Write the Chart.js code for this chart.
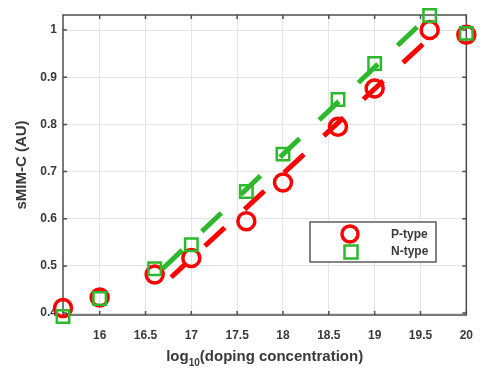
<!DOCTYPE html>
<html>
<head>
<meta charset="utf-8">
<script src="https://cdn.jsdelivr.net/npm/chart.js@4/dist/chart.umd.min.js"></script>
<style>
  html, body { margin: 0; padding: 0; background: #fff; }
  #wrap { width: 486px; height: 371px; }
</style>
</head>
<body>
<div id="wrap"><canvas id="chart" width="486" height="371"></canvas></div>
<script>
// doping levels (log10) and measured sMIM-C values
const dopingLog = [15.6, 16, 16.6, 17, 17.6, 18, 18.6, 19, 19.6, 20];
const pType = [0.411, 0.433, 0.482, 0.517, 0.595, 0.677, 0.795, 0.876, 1.0, 0.99];
const nType = [0.393, 0.431, 0.494, 0.545, 0.658, 0.737, 0.853, 0.929, 1.031, 0.993];

// dashed linear fits (end points)
const pFitX = [16.78, 19.62];
const pFitY = [0.476, 0.987];
const nFitX = [16.6, 19.6];
const nFitY = [0.478, 1.032];

const xTicks = [16, 16.5, 17, 17.5, 18, 18.5, 19, 19.5, 20];
const yTicks = [0.4, 0.5, 0.6, 0.7, 0.8, 0.9, 1];
const seriesNames = ['P-type', 'N-type'];

const RED = '#ff0000';
const GREEN = '#2db82d';
const TEXT = '#3a3a3a';
const FONT = "'Liberation Sans', Arial, sans-serif";

const toPoints = (xs, ys) => xs.map((x, i) => ({ x: x, y: ys[i] }));

// box, inward tick marks, legend and x-axis title
const frame = {
    id: 'frame',
    beforeDatasetsDraw(chart) {
        const { ctx, chartArea: a, scales: { x, y } } = chart;
        ctx.save();
        ctx.strokeStyle = '#4d4d4d';
        ctx.lineWidth = 1.5;
        ctx.strokeRect(a.left, a.top, a.right - a.left, a.bottom - a.top);
        ctx.beginPath();
        xTicks.forEach(v => {
            const px = x.getPixelForValue(v);
            ctx.moveTo(px, a.bottom); ctx.lineTo(px, a.bottom - 4);
            ctx.moveTo(px, a.top); ctx.lineTo(px, a.top + 4);
        });
        yTicks.forEach(v => {
            const py = y.getPixelForValue(v);
            ctx.moveTo(a.left, py); ctx.lineTo(a.left + 4, py);
            ctx.moveTo(a.right, py); ctx.lineTo(a.right - 4, py);
        });
        ctx.stroke();
        ctx.restore();
    },
    afterDraw(chart) {
        const { ctx, chartArea: a } = chart;
        ctx.save();

        // legend
        const lx = 310, ly = 222, lw = 126, lh = 40;
        ctx.fillStyle = '#fff';
        ctx.fillRect(lx, ly, lw, lh);
        ctx.strokeStyle = '#333';
        ctx.lineWidth = 1.2;
        ctx.strokeRect(lx, ly, lw, lh);

        ctx.strokeStyle = RED;
        ctx.lineWidth = 3.5;
        ctx.beginPath();
        ctx.arc(350, 234, 8, 0, Math.PI * 2);
        ctx.stroke();

        ctx.strokeStyle = GREEN;
        ctx.lineWidth = 2.5;
        ctx.strokeRect(351 - 6.5, 252 - 6.5, 13, 13);

        ctx.fillStyle = TEXT;
        ctx.font = 'bold 12px ' + FONT;
        ctx.textBaseline = 'middle';
        ctx.textAlign = 'left';
        ctx.fillText(seriesNames[0], 391, 235);
        ctx.fillText(seriesNames[1], 391, 252);

        // x title with subscript
        const main = 'bold 15px ' + FONT;
        const sub = 'bold 10px ' + FONT;
        ctx.textBaseline = 'alphabetic';
        ctx.font = main;
        const w1 = ctx.measureText('log').width;
        const w3 = ctx.measureText('(doping concentration)').width;
        ctx.font = sub;
        const w2 = ctx.measureText('10').width;
        let tx = (a.left + a.right) / 2 - (w1 + w2 + w3) / 2;
        const base = 361;
        ctx.font = main;
        ctx.fillText('log', tx, base);
        tx += w1;
        ctx.font = sub;
        ctx.fillText('10', tx, base + 5);
        tx += w2;
        ctx.font = main;
        ctx.fillText('(doping concentration)', tx, base);

        ctx.restore();
    }
};

new Chart(document.getElementById('chart'), {
    type: 'scatter',
    data: {
        datasets: [
            {
                label: 'N-type fit',
                data: toPoints(nFitX, nFitY),
                showLine: true,
                borderColor: GREEN,
                borderWidth: 5,
                borderDash: [27, 27],
                borderDashOffset: 43,
                borderCapStyle: 'butt',
                pointRadius: 0,
                clip: false
            },
            {
                label: 'P-type fit',
                data: toPoints(pFitX, pFitY),
                showLine: true,
                borderColor: RED,
                borderWidth: 5,
                borderDash: [27, 27],
                borderDashOffset: 8,
                borderCapStyle: 'butt',
                pointRadius: 0,
                clip: false
            },
            {
                label: seriesNames[1],
                data: toPoints(dopingLog, nType),
                pointStyle: 'rect',
                pointRadius: 8.8,
                borderWidth: 2.5,
                borderColor: GREEN,
                backgroundColor: 'rgba(0,0,0,0)',
                clip: false
            },
            {
                label: seriesNames[0],
                data: toPoints(dopingLog, pType),
                pointStyle: 'circle',
                pointRadius: 8.5,
                borderWidth: 3.5,
                borderColor: RED,
                backgroundColor: 'rgba(0,0,0,0)',
                clip: false
            }
        ]
    },
    options: {
        responsive: false,
        animation: false,
        events: [],
        layout: { padding: { top: 15, right: 10, left: 0, bottom: 0 } },
        plugins: {
            legend: { display: false },
            tooltip: { enabled: false }
        },
        scales: {
            x: {
                type: 'linear',
                min: 15.6,
                max: 20,
                afterBuildTicks: s => { s.ticks = xTicks.map(v => ({ value: v })); },
                afterFit: s => { s.height = 56; },
                grid: { color: '#e4e4e4', drawTicks: false },
                border: { display: false },
                ticks: {
                    padding: 13,
                    maxRotation: 0,
                    color: TEXT,
                    font: { family: FONT, size: 12, weight: 'bold' },
                    callback: v => String(v)
                }
            },
            y: {
                type: 'linear',
                min: 0.396,
                max: 1.032,
                afterBuildTicks: s => { s.ticks = yTicks.map(v => ({ value: v })); },
                afterFit: s => { s.width = 63; },
                grid: { color: '#e4e4e4', drawTicks: false },
                border: { display: false },
                ticks: {
                    padding: 6,
                    color: TEXT,
                    font: { family: FONT, size: 12, weight: 'bold' },
                    callback: v => String(v)
                },
                title: {
                    display: true,
                    text: 'sMIM-C (AU)',
                    color: TEXT,
                    font: { family: FONT, size: 15, weight: 'bold' },
                    padding: { top: 13, bottom: 0 }
                }
            }
        }
    },
    plugins: [frame]
});
</script>
</body>
</html>
